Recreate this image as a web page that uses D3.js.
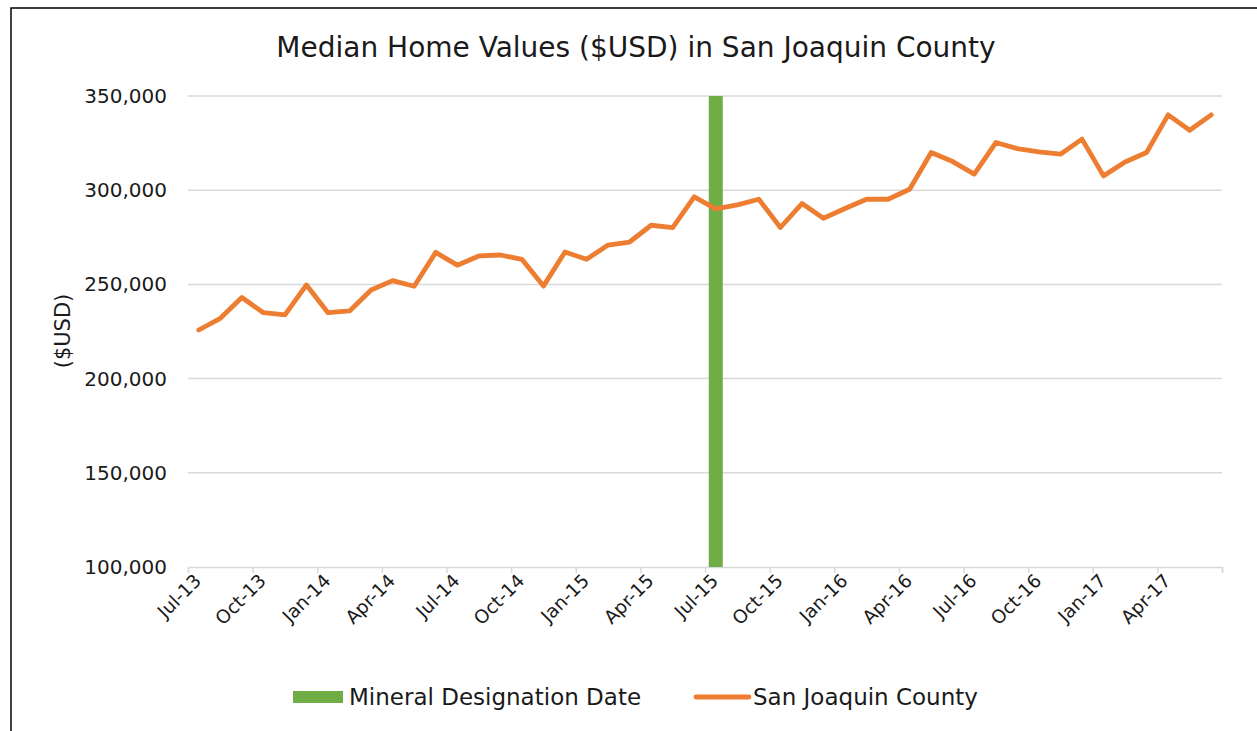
<!DOCTYPE html>
<html>

<head>
    <meta charset="utf-8">
    <script src="https://d3js.org/d3.v7.min.js"></script>
    <style>
        body { margin: 0; background: #fff; }
        text { font-family: "DejaVu Sans", sans-serif; fill: #1a1a1a; }
    </style>
</head>

<body>
    <script>
        // monthly categories, Jul-13 .. Jun-17
        var months = ["Jul-13", "Aug-13", "Sep-13", "Oct-13", "Nov-13", "Dec-13",
            "Jan-14", "Feb-14", "Mar-14", "Apr-14", "May-14", "Jun-14",
            "Jul-14", "Aug-14", "Sep-14", "Oct-14", "Nov-14", "Dec-14",
            "Jan-15", "Feb-15", "Mar-15", "Apr-15", "May-15", "Jun-15",
            "Jul-15", "Aug-15", "Sep-15", "Oct-15", "Nov-15", "Dec-15",
            "Jan-16", "Feb-16", "Mar-16", "Apr-16", "May-16", "Jun-16",
            "Jul-16", "Aug-16", "Sep-16", "Oct-16", "Nov-16", "Dec-16",
            "Jan-17", "Feb-17", "Mar-17", "Apr-17", "May-17", "Jun-17"];

        var homeValues = [225800, 232000, 243000, 235000, 233800, 249700,
            235000, 235900, 247000, 252000, 249000, 267000,
            260200, 265100, 265600, 263300, 249100, 267200,
            263300, 270900, 272500, 281400, 280100, 296500,
            290100, 292200, 295200, 280200, 292900, 285100,
            290300, 295200, 295200, 300500, 320000, 315200,
            308500, 325300, 322100, 320300, 319100, 327100,
            307600, 315000, 320000, 340000, 331800, 340000];

        // mineral designation column (single month)
        var designationMonths = ["Jul-15"];
        var designationValues = [350000];

        var xTickLabels = ["Jul-13", "Oct-13", "Jan-14", "Apr-14", "Jul-14", "Oct-14", "Jan-15", "Apr-15",
            "Jul-15", "Oct-15", "Jan-16", "Apr-16", "Jul-16", "Oct-16", "Jan-17", "Apr-17", ""];
        var yTickValues = [100000, 150000, 200000, 250000, 300000, 350000];

        var seriesNames = ["Mineral Designation Date", "San Joaquin County"];
        var colors = { designation: "#70ad47", county: "#ed7d31" };
    </script>
    <script>
        var W = 1257, H = 731,
            plot = { left: 188, right: 1222, top: 96, bottom: 567 };

        var svg = d3.select("body").append("svg").attr("width", W).attr("height", H);

        // chart border (only top and left are inside the picture)
        svg.append("rect")
            .attr("x", 11).attr("y", 8)
            .attr("width", 1400).attr("height", 900)
            .attr("fill", "#fff")
            .attr("stroke", "#000")
            .attr("stroke-width", 1.5);

        svg.append("text")
            .attr("x", 636).attr("y", 57)
            .attr("text-anchor", "middle")
            .style("font-size", "28px")
            .text("Median Home Values ($USD) in San Joaquin County");

        // month index scale, each month is one slot
        var x = d3.scaleLinear().domain([0, months.length]).range([plot.left, plot.right]);
        var y = d3.scaleLinear().domain([100000, 350000]).range([plot.bottom, plot.top]);

        // gridlines
        svg.append("g")
            .selectAll("line").data(yTickValues.slice(1))
            .enter().append("line")
            .attr("x1", plot.left).attr("x2", plot.right)
            .attr("y1", function (d) { return y(d); })
            .attr("y2", function (d) { return y(d); })
            .attr("stroke", "#d9d9d9")
            .attr("stroke-width", 1.5);

        var yAxis = svg.append("g")
            .attr("transform", "translate(" + plot.left + ",0)")
            .call(d3.axisLeft(y).tickValues(yTickValues).tickFormat(d3.format(",")).tickSize(0).tickPadding(21));
        yAxis.select(".domain").remove();
        yAxis.selectAll("text").style("font-size", "20px").attr("fill", "#1a1a1a");

        svg.append("text")
            .attr("transform", "translate(70,331) rotate(-90)")
            .attr("text-anchor", "middle")
            .style("font-size", "21px")
            .text("($USD)");

        // x axis: ticks every quarter at slot boundaries
        var xTicks = d3.range(0, months.length + 1, 3);
        var xAxis = svg.append("g")
            .attr("transform", "translate(0," + plot.bottom + ")")
            .call(d3.axisBottom(x).tickValues(xTicks).tickSize(6)
                .tickFormat(function (d, i) { return xTickLabels[i]; }));
        xAxis.select(".domain").attr("stroke", "#d9d9d9").attr("stroke-width", 1.5);
        xAxis.selectAll(".tick line").attr("stroke", "#d9d9d9").attr("stroke-width", 1.5);
        xAxis.selectAll("text")
            .style("font-size", "18.5px")
            .attr("fill", "#1a1a1a")
            .attr("text-anchor", "end")
            .attr("dy", "0.35em")
            .attr("transform", "translate(3,4) rotate(-45)");

        // designation column
        svg.append("g").selectAll("rect")
            .data(designationMonths)
            .enter().append("rect")
            .attr("x", function (d) { return x(months.indexOf(d) + 0.5) - 7; })
            .attr("width", 14)
            .attr("y", function (d, i) { return y(designationValues[i]); })
            .attr("height", function (d, i) { return y(100000) - y(designationValues[i]); })
            .attr("fill", colors.designation);

        var line = d3.line()
            .x(function (d, i) { return x(i + 0.5); })
            .y(function (d) { return y(d); });

        svg.append("path")
            .datum(homeValues)
            .attr("fill", "none")
            .attr("stroke", colors.county)
            .attr("stroke-width", 4.8)
            .attr("stroke-linejoin", "round")
            .attr("stroke-linecap", "round")
            .attr("d", line);

        // legend
        var legend = svg.append("g");
        legend.append("rect")
            .attr("x", 293).attr("y", 691).attr("width", 50).attr("height", 12)
            .attr("fill", colors.designation);
        legend.append("text")
            .attr("x", 349).attr("y", 705)
            .style("font-size", "23px")
            .text(seriesNames[0]);
        legend.append("line")
            .attr("x1", 696).attr("x2", 749).attr("y1", 697).attr("y2", 697)
            .attr("stroke", colors.county).attr("stroke-width", 4.8).attr("stroke-linecap", "round");
        legend.append("text")
            .attr("x", 753).attr("y", 705)
            .style("font-size", "23px")
            .text(seriesNames[1]);
    </script>
</body>

</html>
